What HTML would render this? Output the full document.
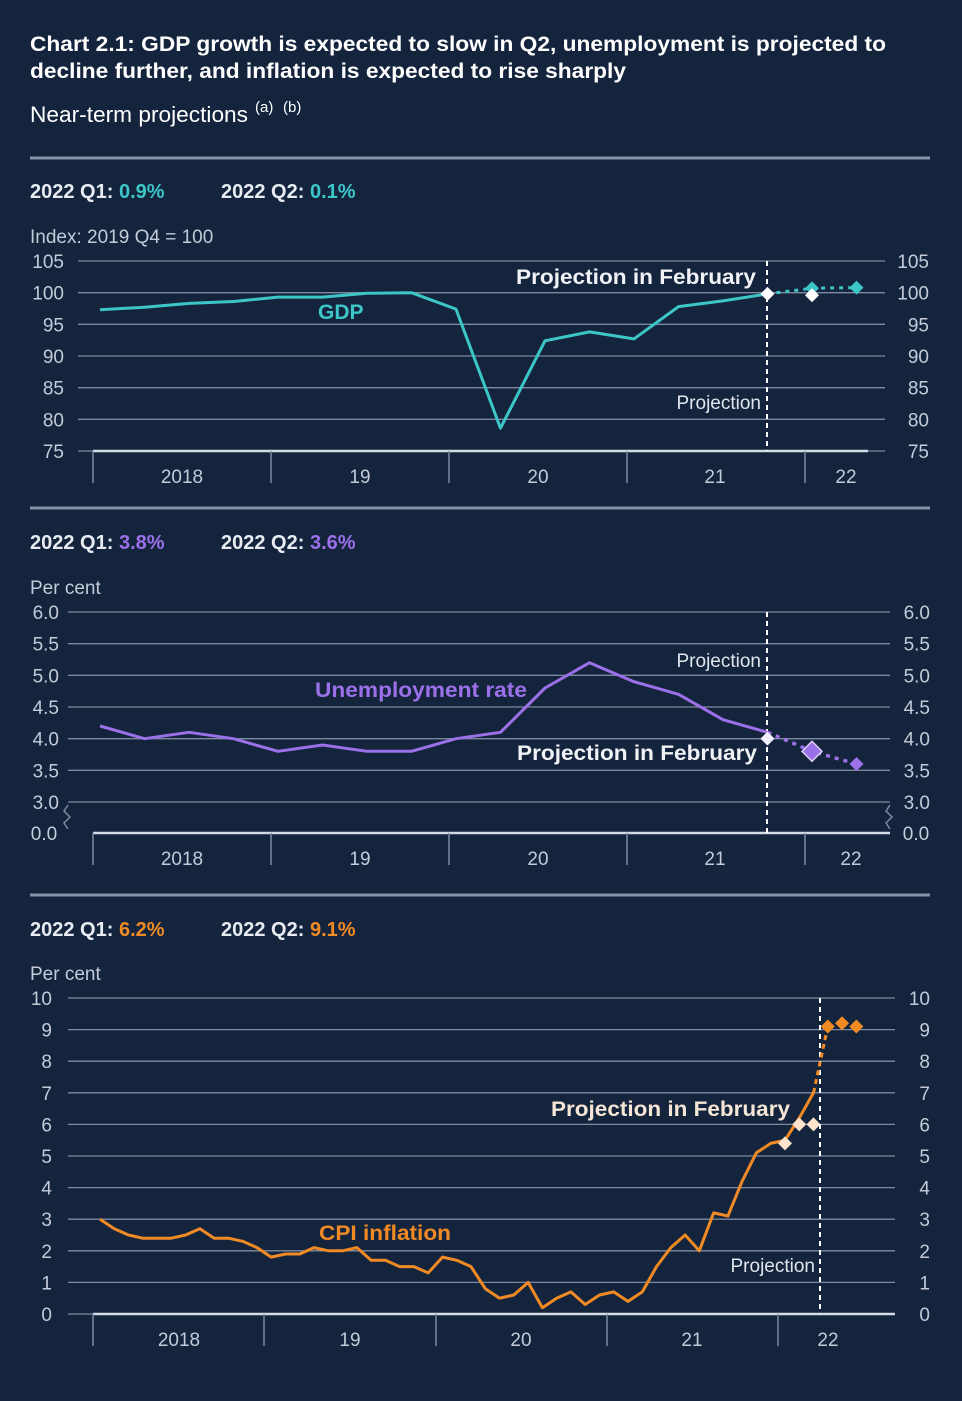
<!DOCTYPE html>
<html><head><meta charset="utf-8"><style>
body{margin:0;background:#14243d;width:962px;height:1401px;overflow:hidden;font-family:"Liberation Sans",sans-serif;}
svg{display:block}
</style></head><body>
<svg id="s" width="962" height="1401" viewBox="0 0 962 1401" xmlns="http://www.w3.org/2000/svg">
<rect width="962" height="1401" fill="#14243d"/>
<text x="30" y="51" fill="#fff" font-size="21" font-weight="bold" textLength="856" lengthAdjust="spacingAndGlyphs">Chart 2.1: GDP growth is expected to slow in Q2, unemployment is projected to</text>
<text x="30" y="78" fill="#fff" font-size="21" font-weight="bold" textLength="596" lengthAdjust="spacingAndGlyphs">decline further, and inflation is expected to rise sharply</text>
<text x="30" y="122" fill="#fff" font-size="22" textLength="218" lengthAdjust="spacingAndGlyphs">Near-term projections</text>
<text x="255" y="112" fill="#fff" font-size="15">(a)</text>
<text x="283" y="112" fill="#fff" font-size="15">(b)</text>
<g id="g"></g>
</svg>
<script>
// GDP data (quarterly, 2018Q1..2021Q4)
const gdpValues=[97.3,97.7,98.3,98.6,99.3,99.3,99.9,100.0,97.4,78.6,92.4,93.8,92.7,97.8,98.7,99.8];
const gdpProjection=[100.7,100.8];
const gdpFebruary=[99.8,99.6];
const gdpTicks=[105,100,95,90,85,80,75];
// Unemployment (quarterly)
const unempValues=[4.2,4.0,4.1,4.0,3.8,3.9,3.8,3.8,4.0,4.1,4.8,5.2,4.9,4.7,4.3,4.1];
const unempProjection=[3.8,3.6];
const unempFebruary=[4.0];
const unempTicks=["6.0","5.5","5.0","4.5","4.0","3.5","3.0"];
// CPI (monthly, Jan 2018..Mar 2022)
const cpiValues=[3.0,2.7,2.5,2.4,2.4,2.4,2.5,2.7,2.4,2.4,2.3,2.1,1.8,1.9,1.9,2.1,2.0,2.0,2.1,1.7,1.7,1.5,1.5,1.3,1.8,1.7,1.5,0.8,0.5,0.6,1.0,0.2,0.5,0.7,0.3,0.6,0.7,0.4,0.7,1.5,2.1,2.5,2.0,3.2,3.1,4.2,5.1,5.4,5.5,6.2,7.0];
const cpiProjection=[9.1,9.2,9.1];
const cpiFebruary=[5.4,6.0,6.0];
const cpiTicks=[10,9,8,7,6,5,4,3,2,1,0];
const yearLabels=["2018","19","20","21","22"];

const NS="http://www.w3.org/2000/svg",G=document.getElementById('g');
function el(t,a,p){const e=document.createElementNS(NS,t);for(const k in a)e.setAttribute(k,a[k]);(p||G).appendChild(e);return e;}
function txt(x,y,s,a){const e=el('text',Object.assign({x:x,y:y},a));e.textContent=s;return e;}
function dia(x,y,r,fill,stroke){return el('path',{d:`M${x} ${y-r}L${x+r} ${y}L${x} ${y+r}L${x-r} ${y}Z`,fill:fill,stroke:stroke||'none','stroke-width':1.5});}
const TC='#c3cbd8',GC='#7d8aa0';
function sep(y){const e=el('rect',{x:30,y:y-1.5,width:900,height:3,fill:'#8591a5'});}
function header(y,a,b,col,name){
  const t=el('text',{x:30,y:y,'font-size':20,'font-weight':'bold',fill:'#e8ecf2'});
  
  t.innerHTML=`2022 Q1: <tspan fill="${col}">${a}</tspan><tspan x="221">2022 Q2: </tspan><tspan fill="${col}">${b}</tspan>`;
}
function yearAxis(ticksX,labelsX,y0,y1,ly,xEnd){
  const a=el('line',{x1:ticksX[0],x2:xEnd,y1:y0,y2:y0,stroke:'#d5dbe5','stroke-width':2.5});
  
  ticksX.forEach(x=>{const l=el('line',{x1:x,x2:x,y1:y0,y2:y1,stroke:GC,'stroke-width':1.5});});
  yearLabels.forEach((s,i)=>{const t=txt(labelsX[i],ly,s,{'font-size':19,fill:TC,'text-anchor':'middle'});});
}
function grid(ticks,ys,x0,x1,lx,rx){
  ticks.forEach((v,i)=>{const y=ys(+v);
    const l=el('line',{x1:x0,x2:x1,y1:y,y2:y,stroke:GC,'stroke-width':1.3});
    const a=txt(lx,y+7,v,{'font-size':19,fill:TC,'text-anchor':'end'});
    const b=txt(rx,y+7,v,{'font-size':19,fill:TC,'text-anchor':'end'});});
}
function poly(xs,ys,vals,i0,col,w,dash,name){
  const pts=vals.map((v,i)=>xs(i+i0).toFixed(1)+','+ys(v).toFixed(1)).join(' ');
  const p=el('polyline',{points:pts,fill:'none',stroke:col,'stroke-width':w,'stroke-linejoin':'round','stroke-dasharray':dash||'none'});
  return p;
}
function vdash(x,y0,y1){const l=el('line',{x1:x,x2:x,y1:y0,y2:y1,stroke:'#fff','stroke-width':2,'stroke-dasharray':'5,4'});}
function label(x,y,s,col,size,bold,anchor,name,len){const a={'font-size':size,fill:col,'font-weight':bold?'bold':'normal','text-anchor':anchor||'start'};if(len){a.textLength=len;a.lengthAdjust='spacingAndGlyphs';}const t=txt(x,y,s,a);}

// ---- GDP ----
sep(158);header(198,'0.9%','0.1%','#3cc6c8','gdp');
label(30,243,'Index: 2019 Q4 = 100',TC,19,false,'start','gdp-y-axis-title');
{const xs=i=>100+i*44.5, ys=v=>261+(105-v)*190/30;
 grid(gdpTicks,ys,78,885,64,929);
 yearAxis([93,271,449,627,805],[182,360,538,715,846],451,483,483,868);
 vdash(767,261,451);
 poly(xs,ys,gdpValues,0,'#3cc6c8',3,null,'gdp-line');
 poly(xs,ys,[gdpValues[15],...gdpProjection],15,'#3cc6c8',3,'4,5','gdp-projection-line');
 gdpProjection.forEach((v,i)=>{const d=dia(xs(16+i),ys(v),7,'#3cc6c8');});
 const d0=dia(xs(15),ys(gdpFebruary[0]),7,'#fff');
 const d1=dia(xs(16),ys(gdpFebruary[1]),7,'#fff');
 label(756,284,'Projection in February','#f0f2f6',21,true,'end','gdp-february-label',240);
 label(318,319,'GDP','#3cc6c8',21,true,'start','gdp-series-label');
 label(761,409,'Projection','#e0e5ec',19,false,'end','gdp-projection-label');
}
// ---- Unemployment ----
sep(508);header(549,'3.8%','3.6%','#9b70e8','unemployment');
label(30,594,'Per cent',TC,19,false,'start','unemployment-y-axis-title');
{const xs=i=>100+i*44.5, ys=v=>612+(6-v)*190/3;
 grid(unempTicks,ys,68,890,59,930);
 const z=txt(44,840,'0.0',{'font-size':19,fill:TC,'text-anchor':'middle'});
 const z2=txt(916,840,'0.0',{'font-size':19,fill:TC,'text-anchor':'middle'});
 [68,890].forEach(x=>{const p=el('path',{d:`M${x} 805 l-4 6 l6 6 l-6 6 l4 6`,fill:'none',stroke:GC,'stroke-width':1.5});});
 yearAxis([93,271,449,627,805],[182,360,538,715,851],833,865,865,890);
 vdash(767,612,833);
 poly(xs,ys,unempValues,0,'#9b70e8',3,null,'unemployment-line');
 poly(xs,ys,[unempValues[15],...unempProjection],15,'#9b70e8',3.5,'4,5','unemployment-projection-line');
 const f=dia(xs(15),ys(unempFebruary[0]),7,'#f2eefc');
 unempProjection.forEach((v,i)=>{const d=dia(xs(16+i),ys(v),i?7:10,'#9b70e8',i?'none':'#d9ccf7');});
 label(761,667,'Projection','#e0e5ec',19,false,'end','unemployment-projection-label');
 label(315,697,'Unemployment rate','#9b70e8',21,true,'start','unemployment-series-label',212);
 label(757,760,'Projection in February','#f0f2f6',21,true,'end','unemployment-february-label',240);
}
// ---- CPI ----
sep(895);header(936,'6.2%','9.1%','#f08a24','cpi');
label(30,980,'Per cent',TC,19,false,'start','cpi-y-axis-title');
{const xs=i=>100+i*14.27, ys=v=>1314-v*31.6;
 grid(cpiTicks,ys,68,895,52,930);
 yearAxis([93,264,436,607,778],[179,350,521,692,828],1314,1346,1346,895);
 vdash(820,998,1314);
 poly(xs,ys,cpiValues,0,'#f08a24',3,null,'cpi-line');
 poly(xs,ys,[cpiValues[50],cpiProjection[0]],50,'#f08a24',3,'5,4','cpi-projection-line');
 cpiFebruary.forEach((v,i)=>{const d=dia(xs(48+i),ys(v),7,'#fde3cc');});
 cpiProjection.forEach((v,i)=>{const d=dia(xs(51+i),ys(v),7,'#f08a24');});
 label(790,1116,'Projection in February','#f6e6d6',21,true,'end','cpi-february-label',239);
 label(319,1240,'CPI inflation','#f08a24',21,true,'start','cpi-series-label',132);
 label(815,1272,'Projection','#e0e5ec',19,false,'end','cpi-projection-label');
}
</script>
</body></html>
